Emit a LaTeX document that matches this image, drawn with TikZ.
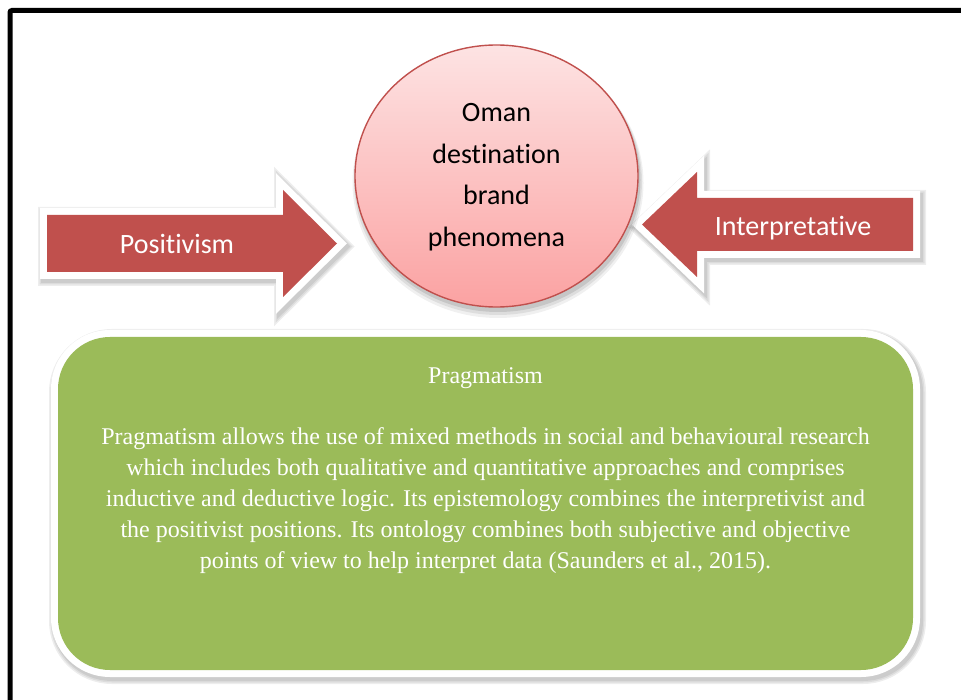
\documentclass[tikz,border=0pt]{standalone}
\usepackage{fontspec}
\setmainfont{Liberation Serif}
\newfontfamily\labelfont[Ligatures={NoCommon,NoRequired,NoContextual}]{Carlito}
\usetikzlibrary{shapes.geometric}

\definecolor{arrowred}{HTML}{C0504D}
\definecolor{rimred}{HTML}{C0504D}
\definecolor{boxgreen}{HTML}{9BBB59}
\definecolor{pinktop}{HTML}{FDE3E3}
\definecolor{pinkbot}{HTML}{FBA2A2}

% outlines of the two block arrows
\def\posarrow{(47,215) -- (283,215) -- (283,190) -- (337,243.5) -- (283,297) -- (283,272) -- (47,272) -- cycle}
\def\intarrow{(913,198) -- (697,198) -- (697,172) -- (642,224.5) -- (697,277) -- (697,251) -- (913,251) -- cycle}

\tikzset{
  haze/.style={draw=black, fill=black, line width=#1, line join=miter, opacity=.07},
  rim/.style={draw=white, fill=white, line width=14pt, line join=miter},
  sanslabel/.style={font=\labelfont\fontsize{28}{41.5}\selectfont, align=center, inner sep=0pt},
  serifbody/.style={font=\fontsize{24}{31.2}\selectfont, text=white, align=center, inner sep=0pt},
}

\begin{document}
\begin{tikzpicture}[x=1pt,y=-1pt]
\useasboundingbox (0,0) rectangle (961,700);
\clip (0,0) rectangle (961,700);

% page frame
\draw[line width=5pt, rounded corners=2pt] (10,10.5) rectangle (1000,740);

% soft shadows beneath the white rims
\foreach \w in {22,19,16} {
  \draw[haze=\w pt, shift={(2,3)}] \posarrow;
  \draw[haze=\w pt, shift={(2,3)}] \intarrow;
  \draw[haze=\w pt, shift={(2,3)}, rounded corners=52pt] (58,337) rectangle (913,670);
}

% block arrows with white rims
\draw[rim] \posarrow;
\fill[arrowred] \posarrow;
\draw[rim] \intarrow;
\fill[arrowred] \intarrow;

\node[sanslabel, text=white] (pos) at (177,244) {Positivism};
\node[sanslabel, text=white] (int) at (793,228) {Interpretative};

% central ellipse
\foreach \s/\o in {4/.06,2.5/.08,1/.1} {
  \fill[black, opacity=\o] (498,179+\s) ellipse [x radius=141.5+\s, y radius=131+\s];
}
\node[ellipse, minimum width=283pt, minimum height=262pt, inner sep=0pt,
      top color=pinktop, bottom color=pinkbot, draw=rimred, line width=1.4pt]
  (core) at (496.5,176) {};
\node[sanslabel] (coretext) at (496.5,177)
  {Oman\\destination\\brand\\phenomena};

% green panel
\draw[rim, rounded corners=52pt] (58,337) rectangle (913,670);
\fill[boxgreen, rounded corners=52pt] (58,337) rectangle (913,670);

\node[serifbody] (head) at (485.5,378) {Pragmatism};
\node[serifbody, anchor=north] (body) at (485.5,427)
  {Pragmatism allows the use of mixed methods in social and behavioural research\\
   which includes both qualitative and quantitative approaches and comprises\\
   inductive and deductive logic. Its epistemology combines the interpretivist and\\
   the positivist positions. Its ontology combines both subjective and objective\\
   points of view to help interpret data (Saunders et al., 2015).};
\end{tikzpicture}
\end{document}
